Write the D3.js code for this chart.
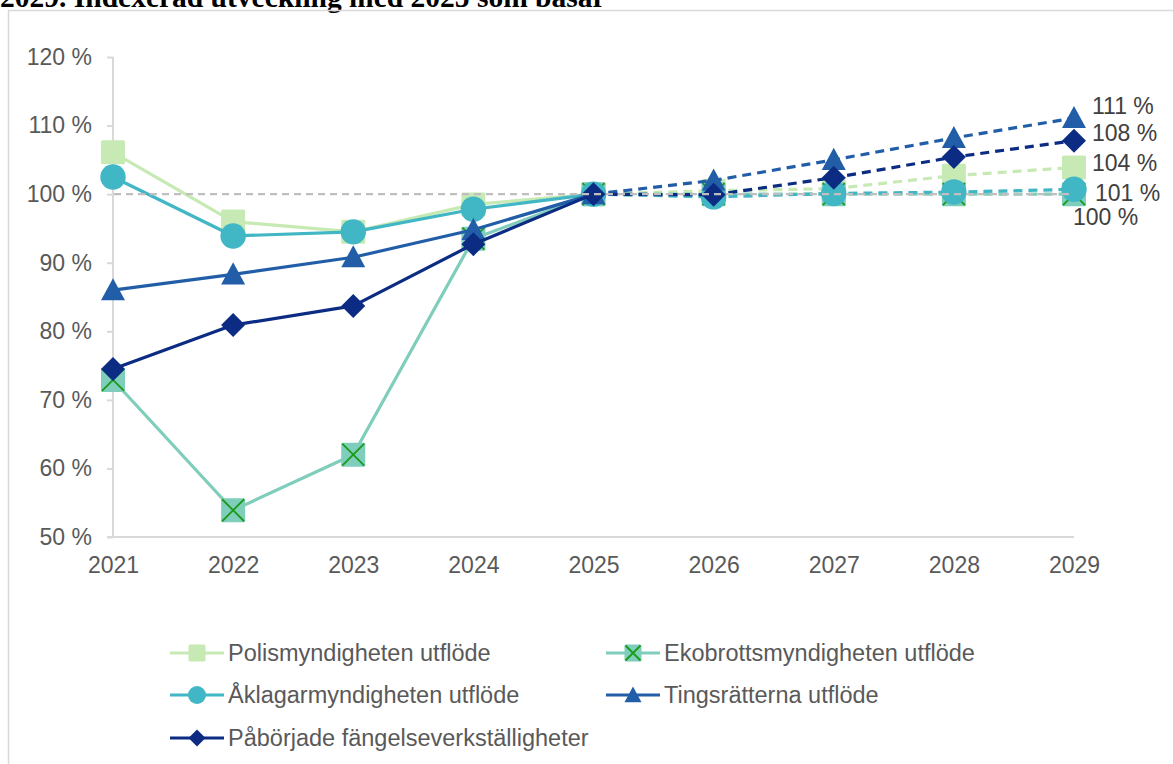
<!DOCTYPE html>
<html><head><meta charset="utf-8">
<script src="https://cdn.jsdelivr.net/npm/d3@7"></script>
<style>body{margin:0;background:#fff;}svg{display:block;font-family:"Liberation Sans",Arial,sans-serif;}</style>
</head><body>
<svg id="c" width="1173" height="764"></svg>
<script>
const years = [2021,2022,2023,2024,2025,2026,2027,2028,2029];
const yTicks = [50,60,70,80,90,100,110,120];
const seriesNames = ["Polismyndigheten utflöde","Ekobrottsmyndigheten utflöde","Åklagarmyndigheten utflöde","Tingsrätterna utflöde","Påbörjade fängelseverkställigheter"];
const polis = [106.1,96.0,94.5,98.5,100,100.5,100.8,102.7,103.9];
const ekobrott = [72.9,53.9,62.0,93.5,100,100,100,100,100];
const aklagare = [102.5,93.9,94.5,97.8,100,99.6,100.1,100.3,100.7];
const tingsratt = [86.0,88.3,90.8,94.8,100,102.0,105.0,108.2,111.1];
const paborjade = [74.5,80.9,83.7,92.7,100,99.9,102.4,105.4,107.8];
const endLabels = ["111 %","108 %","104 %","101 %","100 %"];
const baseYear = 2025;
const title = "2029. Indexerad utveckling med 2025 som basår";

const colors = ["#c7e9b4","#7fcdbb","#41b6c4","#225ea8","#0c2c84"];
const shapes = ["square","squareX","circle","triangle","diamond"];
const data = [polis,ekobrott,aklagare,tingsratt,paborjade];

const svg = d3.select("#c");
const x = d3.scaleLinear().domain([2021,2029]).range([113,1074]);
const y = d3.scaleLinear().domain([50,120]).range([537,57]);
const FONT = "'Liberation Sans',Arial,sans-serif";

// title (cut off) and frame
svg.append("text").attr("x",0).attr("y",7).attr("font-family","'Liberation Serif','Times New Roman',serif")
  .attr("font-weight","bold").attr("font-size",29.5).attr("fill","#000").text(title);
svg.append("rect").attr("x",8.5).attr("y",10.5).attr("width",1180).attr("height",770)
  .attr("fill","none").attr("stroke","#d9d9d9").attr("stroke-width",1.5);

// axes
const yAxis = d3.axisLeft(y).tickValues(yTicks).tickSize(6).tickPadding(15).tickFormat(d=>d+" %");
const gy = svg.append("g").attr("transform","translate(113,0)").call(yAxis);
gy.select(".domain").remove();
gy.selectAll(".tick line").attr("stroke","#d9d9d9").attr("stroke-width",2);
gy.selectAll(".tick text").attr("fill","#595959").attr("font-size",23).attr("font-family",FONT);
svg.append("line").attr("x1",113).attr("x2",113).attr("y1",y(120)).attr("y2",y(50)).attr("stroke","#d9d9d9").attr("stroke-width",2);
svg.append("line").attr("x1",107).attr("x2",x(2029)).attr("y1",y(50)).attr("y2",y(50)).attr("stroke","#d9d9d9").attr("stroke-width",2);

const xAxis = d3.axisBottom(x).tickValues(years).tickSize(0).tickPadding(20).tickFormat(d3.format("d"));
const gx = svg.append("g").attr("transform",`translate(0,${y(50)})`).call(xAxis);
gx.select(".domain").remove();
gx.selectAll(".tick text").attr("fill","#595959").attr("font-size",23).attr("font-family",FONT);

function drawMarker(g, shape, cx, cy, s, color){
  if(shape==="square"||shape==="squareX"){
    g.append("rect").attr("x",cx-s/2).attr("y",cy-s/2).attr("width",s).attr("height",s).attr("fill",color).attr("rx",1.5);
    if(shape==="squareX"){
      const h=s/2-1;
      g.append("path").attr("d",`M${cx-h},${cy-h}L${cx+h},${cy+h}M${cx-h},${cy+h}L${cx+h},${cy-h}`)
        .attr("stroke","#1a9c1a").attr("stroke-width",1.8).attr("fill","none");
    }
  } else if(shape==="circle"){
    g.append("circle").attr("cx",cx).attr("cy",cy).attr("r",s*0.53).attr("fill",color);
  } else if(shape==="triangle"){
    g.append("path").attr("d",`M${cx},${cy-s*0.5}L${cx+s*0.5},${cy+s*0.42}L${cx-s*0.5},${cy+s*0.42}Z`).attr("fill",color);
  } else if(shape==="diamond"){
    const r=s*0.5;
    g.append("path").attr("d",`M${cx},${cy-r}L${cx+r},${cy}L${cx},${cy+r}L${cx-r},${cy}Z`).attr("fill",color);
  }
}

const line = d3.line().x(d=>x(d[0])).y(d=>y(d[1]));
const bi = years.indexOf(baseYear);
data.forEach((vals,i)=>{
  const g = svg.append("g");
  const pts = years.map((yr,j)=>[yr,vals[j]]);
  g.append("path").attr("d",line(pts.slice(0,bi+1))).attr("fill","none").attr("stroke",colors[i]).attr("stroke-width",3.2).attr("stroke-linejoin","round");
  g.append("path").attr("d",line(pts.slice(bi))).attr("fill","none").attr("stroke",colors[i]).attr("stroke-width",3.2).attr("stroke-dasharray","9,6");
  pts.forEach(p=>drawMarker(g, shapes[i], x(p[0]), y(p[1]), 24, colors[i]));
});

// reference line at 100%
svg.append("line").attr("x1",114).attr("x2",x(2029)).attr("y1",y(100)).attr("y2",y(100))
  .attr("stroke","#bfbfbf").attr("stroke-width",2.2).attr("stroke-dasharray","7,5");

// end labels
const lblPos = [[1092,106],[1092,133],[1092,163],[1095,193],[1073,217]];
endLabels.forEach((t,k)=>{
  svg.append("text").attr("x",lblPos[k][0]).attr("y",lblPos[k][1]).attr("dy","0.35em")
    .attr("fill","#404040").attr("font-size",23).attr("font-family",FONT).text(t);
});

// legend
const legPos = [[170,653],[606,653],[170,695],[606,695],[170,738]];
seriesNames.forEach((n,i)=>{
  const [lx,ly]=legPos[i];
  const g=svg.append("g");
  g.append("line").attr("x1",lx).attr("x2",lx+54).attr("y1",ly).attr("y2",ly).attr("stroke",colors[i]).attr("stroke-width",3);
  drawMarker(g, shapes[i], lx+27, ly, 17, colors[i]);
  g.append("text").attr("x",lx+58).attr("y",ly).attr("dy","0.35em").attr("fill","#595959").attr("font-size",23.5).attr("font-family",FONT).text(n);
});
</script>
</body></html>
